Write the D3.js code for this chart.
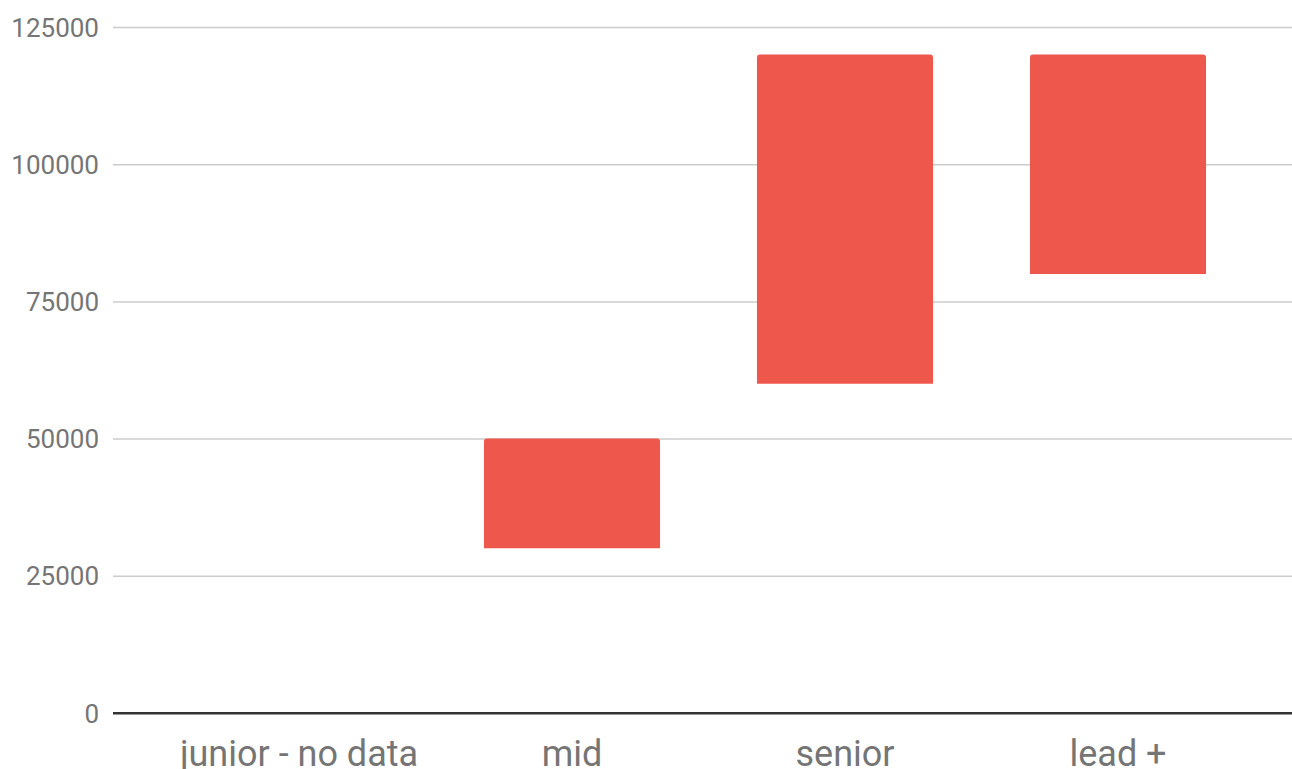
<!DOCTYPE html>
<html>
<head>
<meta charset="utf-8">
<script src="https://cdn.jsdelivr.net/npm/d3@7"></script>
<style>
  html, body { margin: 0; padding: 0; background: #fff; overflow: hidden; }
  svg { display: block; }
</style>
</head>
<body>
<svg id="chart"></svg>
<script>
// salary ranges by level (low / high), junior has no data
let categories = ["junior - no data", "mid", "senior", "lead +"];
let lows = [null, 30000, 60000, 80000];
let highs = [null, 50000, 120000, 120000];
let yTicks = [0, 25000, 50000, 75000, 100000, 125000];

let width = 1292,
    height = 769;

let plot = {left: 113, right: 1292, top: 27, bottom: 713};

let svg = d3.select("#chart")
    .attr("width", width)
    .attr("height", height);

let y = d3.scaleLinear()
    .domain([0, 125000])
    .range([plot.bottom, plot.top]);

// bands are narrower than the plot area, like the original
let x = d3.scaleBand()
    .domain(categories)
    .range([162.5, 1254.5])
    .paddingInner(0.355)
    .paddingOuter(0.1775);

// gridlines + y labels
let yAxis = svg.append("g")
    .attr("transform", "translate(" + plot.left + ",0)")
    .call(d3.axisLeft(y)
        .tickValues(yTicks)
        .tickSize(-(plot.right - plot.left))
        .tickPadding(14)
        .tickFormat(d3.format("d")));

yAxis.select(".domain").remove();
yAxis.selectAll(".tick line")
    .attr("stroke", d => d === 0 ? "#333" : "#cccccc")
    .attr("stroke-width", d => d === 0 ? 2 : 1.5);
yAxis.selectAll(".tick text")
    .attr("fill", "#757575")
    .attr("font-family", "Roboto, sans-serif")
    .attr("font-size", "26px")
    .attr("dy", "0.35em");

// bars with slightly rounded top corners
let r = 3;
let data = categories.map((c, i) => ({cat: c, lo: lows[i], hi: highs[i]}))
    .filter(d => d.lo != null);

svg.append("g")
    .selectAll("path")
    .data(data)
    .join("path")
    .attr("fill", "#ee574b")
    .attr("d", d => {
        let x0 = x(d.cat), x1 = x0 + x.bandwidth();
        let y0 = y(d.hi), y1 = y(d.lo);
        return "M" + x0 + "," + y1 +
            "V" + (y0 + r) +
            "Q" + x0 + "," + y0 + " " + (x0 + r) + "," + y0 +
            "H" + (x1 - r) +
            "Q" + x1 + "," + y0 + " " + x1 + "," + (y0 + r) +
            "V" + y1 + "Z";
    });

// baseline on top of everything
svg.append("line")
    .attr("x1", plot.left)
    .attr("x2", plot.right)
    .attr("y1", y(0))
    .attr("y2", y(0))
    .attr("stroke", "#333")
    .attr("stroke-width", 2);

// category labels
svg.append("g")
    .selectAll("text")
    .data(categories)
    .join("text")
    .attr("x", d => x(d) + x.bandwidth() / 2)
    .attr("y", 766)
    .attr("text-anchor", "middle")
    .attr("fill", "#757575")
    .attr("font-family", "Roboto, sans-serif")
    .attr("font-size", "36px")
    .text(d => d);
</script>
</body>
</html>
